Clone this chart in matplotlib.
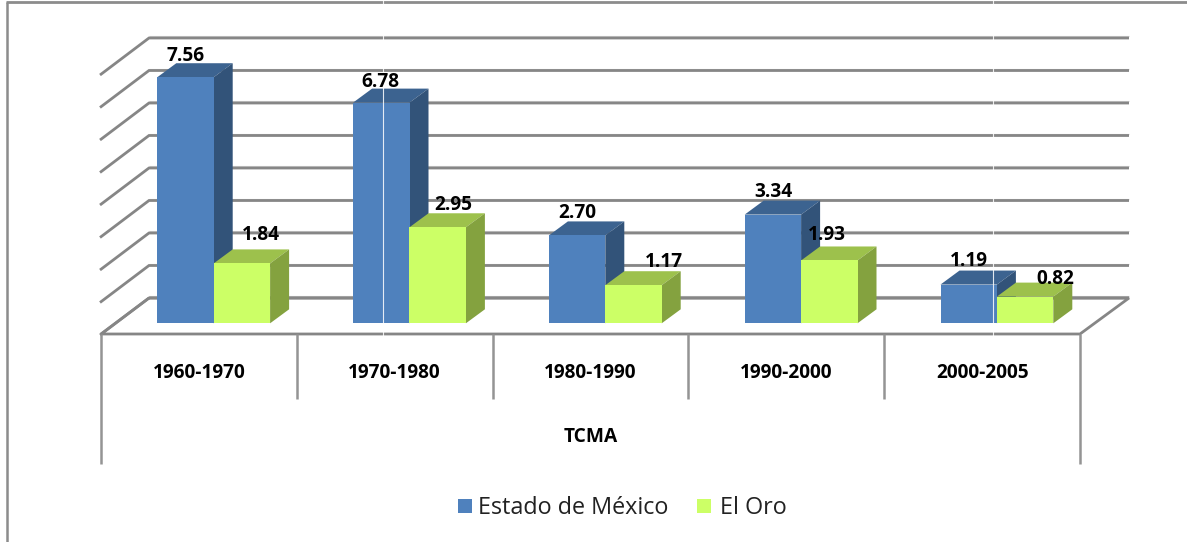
import matplotlib
matplotlib.use("Agg")
import matplotlib.pyplot as plt
from matplotlib.patches import Polygon, Rectangle
from matplotlib.transforms import ScaledTranslation

periods = ["1960-1970", "1970-1980", "1980-1990", "1990-2000", "2000-2005"]
estado = [7.56, 6.78, 2.70, 3.34, 1.19]
oro = [1.84, 2.95, 1.17, 1.93, 0.82]
group_label = "TCMA"
series_names = ["Estado de México", "El Oro"]

W, H = 1187, 542
PX_X = 195.8      # pixels per category
PX_Y = 32.55      # pixels per unit
X0, Y0 = 101, 323.3

fig = plt.figure(figsize=(W / 100, H / 100), dpi=100, facecolor="white")

# pixel layer for the frame, walls and category table
bg = fig.add_axes([0, 0, 1, 1])
bg.set_xlim(0, W); bg.set_ylim(H, 0); bg.axis("off")
GRID = "#868686"
bg.plot([6.5, 6.5], [2, H], color="#8c8c8c", lw=1.8, solid_capstyle="butt")
bg.plot([6, W], [1.5, 1.5], color="#8c8c8c", lw=2.0, solid_capstyle="butt")
shift = bg.transData + ScaledTranslation(0, 2 / 100, fig.dpi_scale_trans)
for k in range(9):
    y = 298 - k * 32.5
    bg.plot([1129, 149], [y, y], color="#d4d4d4", lw=0.8, zorder=1, solid_capstyle="butt", transform=shift)
    bg.plot([1129, 149, 100], [y, y, y + 37], color=GRID, lw=2.0, zorder=2,
            solid_joinstyle="miter", solid_capstyle="butt")
bg.plot([149, 1129, 1080, 101, 149], [298, 298, 334, 334, 298], color=GRID, lw=2.0, zorder=2,
        solid_joinstyle="miter", solid_capstyle="butt")
for i in range(6):
    x = X0 + i * PX_X
    bot = 464 if i in (0, 5) else 399
    bg.plot([x, x], [334, bot], color="#949494", lw=1.8, zorder=2, solid_capstyle="butt")

# data layer
ax = fig.add_axes([0, 0, 1, 1])
ax.set_xlim(-X0 / PX_X, (W - X0) / PX_X)
ax.set_ylim(-(H - Y0) / PX_Y, Y0 / PX_Y)
ax.axis("off"); ax.patch.set_alpha(0)

BW = 56.4 / PX_X
OFF = 56.3 / PX_X
DX, DY = 19 / PX_X, 14 / PX_Y


def bar3d(x, v, front, top, side, z):
    ax.bar(x, v, BW, align="edge", color=front, linewidth=0, zorder=z + 0.2)
    ax.add_patch(Polygon([(x, v), (x + DX, v + DY), (x + BW + DX, v + DY), (x + BW, v)],
                         closed=True, fc=top, ec="none", zorder=z))
    ax.add_patch(Polygon([(x + BW, 0), (x + BW + DX, DY), (x + BW + DX, v + DY), (x + BW, v)],
                         closed=True, fc=side, ec="none", zorder=z))


for i, (a, b) in enumerate(zip(estado, oro)):
    bar3d(i + OFF, a, "#4F81BD", "#3C6390", "#325379", 3 + i)
    bar3d(i + OFF + BW, b, "#CCFF66", "#9DC14C", "#84A23F", 3.5 + i)

FONT = "Open Sans"
blue_off = [(0, 21), (-1, 21), (0, 22), (0, 23), (0, 24)]
green_off = [(19, 28), (16, 22), (30, 23), (-2, 25), (30, 18)]
for i, (a, b) in enumerate(zip(estado, oro)):
    for v, x, off in ((a, i + OFF + BW / 2, blue_off[i]), (b, i + OFF + 1.5 * BW, green_off[i])):
        ax.annotate(f"{v:.2f}", (x, v), xytext=(off[0] * 0.72, off[1] * 0.72), textcoords="offset points",
                    ha="center", va="center", fontsize=13.7, fontweight="bold", family=FONT,
                    color="black", zorder=30)

for i, p in enumerate(periods):
    ax.text(i + 0.5, -(372.5 - Y0) / PX_Y, p, ha="center", va="center", fontsize=13.7,
            fontweight="bold", family=FONT, color="black", zorder=30)
ax.text(2.5, -(436.5 - Y0) / PX_Y, group_label, ha="center", va="center", fontsize=13.8,
        fontweight="bold", family=FONT, color="black", zorder=30)

# thin white seams
for x in (383, 993):
    ax.plot([(x - X0) / PX_X] * 2, [-(336 - Y0) / PX_Y, Y0 / PX_Y], color="white", lw=0.8, zorder=25, alpha=0.85)

# legend
leg = fig.add_axes([0, 0, 1, 1])
leg.set_xlim(0, W); leg.set_ylim(H, 0); leg.axis("off"); leg.patch.set_alpha(0)
leg.add_patch(Rectangle((458, 499), 14, 14, fc="#4F81BD", ec="none"))
leg.add_patch(Rectangle((697, 499), 14, 14, fc="#CCFF66", ec="none"))
leg.text(478, 507.5, series_names[0], ha="left", va="center", fontsize=16.8, family="Open Sans", color="#222222")
leg.text(720, 507.5, series_names[1], ha="left", va="center", fontsize=16.8, family="Open Sans", color="#222222")

fig.savefig("out.png", dpi=100, facecolor="white")
